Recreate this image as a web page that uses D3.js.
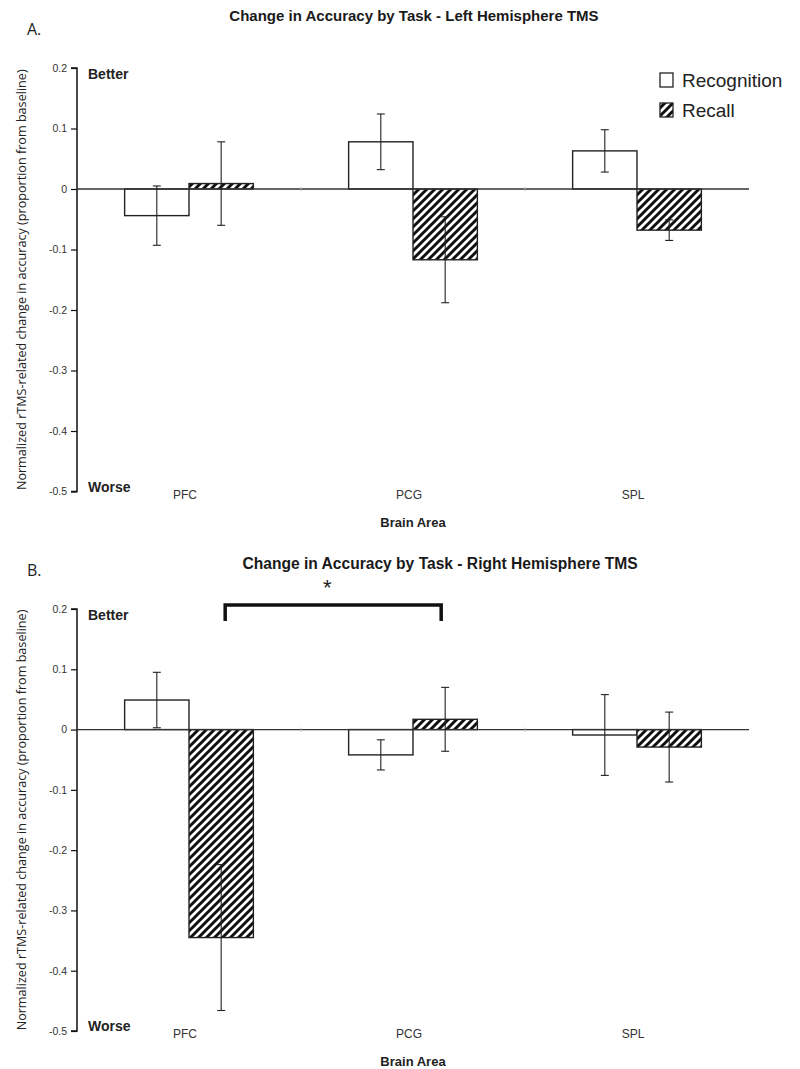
<!DOCTYPE html>
<html><head><meta charset="utf-8">
<script src="https://cdn.jsdelivr.net/npm/d3@7"></script>
<style>body{margin:0;background:#fff}svg{display:block}</style>
</head><body>
<svg id="c" width="800" height="1069"></svg>
<script>
const categories = ["PFC", "PCG", "SPL"];
const series = ["Recognition", "Recall"];
// Panel A: Left hemisphere
const leftRecognition = [-0.044, 0.078, 0.063];
const leftRecognitionErr = [0.049, 0.046, 0.035];
const leftRecall = [0.009, -0.117, -0.068];
const leftRecallErr = [0.069, 0.071, 0.017];
// Panel B: Right hemisphere
const rightRecognition = [0.049, -0.042, -0.009];
const rightRecognitionErr = [0.046, 0.025, 0.067];
const rightRecall = [-0.345, 0.017, -0.029];
const rightRecallErr = [0.121, 0.053, 0.058];
const yTicks = [0.2, 0.1, 0, -0.1, -0.2, -0.3, -0.4, -0.5];
const yTickLabels = ["0.2", "0.1", "0", "-0.1", "-0.2", "-0.3", "-0.4", "-0.5"];

const svg = d3.select("#c");
const defs = svg.append("defs");
const pat = defs.append("pattern").attr("id", "hatch").attr("patternUnits", "userSpaceOnUse")
  .attr("width", 8).attr("height", 8);
pat.append("rect").attr("width", 8).attr("height", 8).attr("fill", "#fff");
pat.append("path").attr("d", "M-2,2 L2,-2 M0,8 L8,0 M6,10 L10,6")
  .attr("stroke", "#111").attr("stroke-width", 3);

const x0 = d3.scaleBand().domain(categories).range([77, 749]);
const x1 = d3.scaleBand().domain(series).range([0, x0.bandwidth()]).paddingOuter(0.74);

function panel(cfg) {
  const g = svg.append("g");
  const y = d3.scaleLinear().domain([-0.5, 0.2]).range([cfg.yBottom, cfg.yTop]);
  const data = [];
  categories.forEach((c, i) => {
    data.push({cat: c, s: "Recognition", v: cfg.rec[i], e: cfg.recErr[i]});
    data.push({cat: c, s: "Recall", v: cfg.cal[i], e: cfg.calErr[i]});
  });
  // title
  g.append("text").attr("x", cfg.titleX).attr("y", cfg.titleY).attr("text-anchor", "middle")
    .attr("font-family", "Liberation Sans, Arial, sans-serif").attr("font-weight", "bold")
    .attr("font-size", cfg.titleSize).attr("fill", "#1a1a1a").text(cfg.title);
  g.append("text").attr("x", 27).attr("y", cfg.letterY)
    .attr("font-family", "Open Sans, sans-serif").attr("font-size", 16).attr("fill", "#222").text(cfg.letter);
  // y axis
  const ax = g.append("g").attr("transform", "translate(77,0)")
    .call(d3.axisLeft(y).tickValues(yTicks).tickFormat((d, i) => yTickLabels[i]).tickSize(6).tickPadding(4));
  ax.select(".domain").attr("stroke", "#111").attr("stroke-width", 1.5).attr("d", `M-6,${y(0.2)}H0V${y(-0.5)}H-6`);
  ax.selectAll(".tick line").attr("stroke", "#111").attr("stroke-width", 1.2);
  ax.selectAll(".tick text").attr("font-family", "Liberation Sans, Arial, sans-serif").attr("font-size", 10.5).attr("fill", "#333");
  // bars
  g.selectAll("rect.bar").data(data).join("rect").attr("class", "bar")
    .attr("x", d => x0(d.cat) + x1(d.s)).attr("width", x1.bandwidth())
    .attr("y", d => y(Math.max(0, d.v))).attr("height", d => Math.abs(y(d.v) - y(0)))
    .attr("fill", d => d.s === "Recall" ? "url(#hatch)" : "#fff")
    .attr("stroke", "#222").attr("stroke-width", 1.4);
  // zero line
  g.append("line").attr("x1", 77).attr("x2", 749).attr("y1", y(0)).attr("y2", y(0))
    .attr("stroke", "#333").attr("stroke-width", 1.3);
  // category boundary ticks
  g.selectAll("line.minor").data(categories.slice(1)).join("line").attr("class", "minor")
    .attr("x1", d => x0(d)).attr("x2", d => x0(d)).attr("y1", y(0) - 2).attr("y2", y(0) + 2)
    .attr("stroke", "#bbb").attr("stroke-width", 1);
  // error bars
  const eb = g.selectAll("g.eb").data(data).join("g").attr("class", "eb")
    .attr("stroke", "#222").attr("stroke-width", 1.1);
  const cx = d => x0(d.cat) + x1(d.s) + x1.bandwidth() / 2;
  eb.append("line").attr("x1", cx).attr("x2", cx).attr("y1", d => y(d.v + d.e)).attr("y2", d => y(d.v - d.e));
  eb.append("line").attr("x1", d => cx(d) - 4).attr("x2", d => cx(d) + 4).attr("y1", d => y(d.v + d.e)).attr("y2", d => y(d.v + d.e));
  eb.append("line").attr("x1", d => cx(d) - 4).attr("x2", d => cx(d) + 4).attr("y1", d => y(d.v - d.e)).attr("y2", d => y(d.v - d.e));
  // category labels
  g.selectAll("text.cat").data(categories).join("text").attr("class", "cat")
    .attr("x", d => x0(d) + x0.bandwidth() / 2 - 4).attr("y", y(-0.5) + 7)
    .attr("text-anchor", "middle").attr("font-family", "Liberation Sans, Arial, sans-serif")
    .attr("font-size", 12).attr("fill", "#333").text(d => d);
  g.append("text").attr("x", 413).attr("y", y(-0.5) + 35).attr("text-anchor", "middle")
    .attr("font-family", "Liberation Sans, Arial, sans-serif").attr("font-weight", "bold")
    .attr("font-size", 13).attr("fill", "#222").text("Brain Area");
  // Better / Worse
  g.append("text").attr("x", 88).attr("y", y(0.2) + 11).attr("font-family", "Liberation Sans, Arial, sans-serif")
    .attr("font-weight", "bold").attr("font-size", 14).attr("fill", "#222").text("Better");
  g.append("text").attr("x", 88).attr("y", y(-0.5) - 0).attr("font-family", "Liberation Sans, Arial, sans-serif")
    .attr("font-weight", "bold").attr("font-size", 14).attr("fill", "#222").text("Worse");
  // y label
  const yl = g.append("text").attr("transform", `translate(26,${(y(0.2) + y(-0.5)) / 2}) rotate(-90)`)
    .attr("text-anchor", "middle").attr("font-family", "Open Sans, sans-serif").attr("font-size", 12)
    .attr("fill", "#222").text("Normalized rTMS-related change in accuracy (proportion from baseline)");
  const len = yl.node().getComputedTextLength();
  yl.attr("font-size", 12 * 421 / len);
  return {g, y};
}

const A = panel({yTop: 68, yBottom: 491.5, rec: leftRecognition, recErr: leftRecognitionErr,
  cal: leftRecall, calErr: leftRecallErr, title: "Change in Accuracy by Task - Left Hemisphere TMS",
  titleX: 414, titleY: 21, titleSize: 15, letter: "A.", letterY: 35});
const B = panel({yTop: 609, yBottom: 1031, rec: rightRecognition, recErr: rightRecognitionErr,
  cal: rightRecall, calErr: rightRecallErr, title: "Change in Accuracy by Task - Right Hemisphere TMS",
  titleX: 440, titleY: 569, titleSize: 15.6, letter: "B.", letterY: 576});

// legend (panel A)
const lg = svg.append("g");
series.forEach((s, i) => {
  lg.append("rect").attr("x", 660).attr("y", 73 + i * 30).attr("width", 13).attr("height", 14)
    .attr("fill", s === "Recall" ? "url(#hatch)" : "#fff").attr("stroke", "#222").attr("stroke-width", 1.3);
  lg.append("text").attr("x", 682).attr("y", 87 + i * 30).attr("font-family", "Liberation Sans, Arial, sans-serif")
    .attr("font-size", 19).attr("fill", "#222").text(s);
});

// significance bracket (panel B): PFC Recall vs PCG Recall
const bx1 = x0("PFC") + x1("Recall") + x1.bandwidth() / 2 + 4;
const bx2 = x0("PCG") + x1("Recall") + x1.bandwidth() / 2 - 4;
const byTop = B.y(0.2) - 4;
svg.append("path").attr("d", `M${bx1},${byTop + 16}V${byTop}H${bx2}V${byTop + 16}`)
  .attr("fill", "none").attr("stroke", "#111").attr("stroke-width", 3.5);
svg.append("text").attr("x", (bx1 + bx2) / 2 - 6).attr("y", 595).attr("text-anchor", "middle")
  .attr("font-family", "Liberation Sans, Arial, sans-serif").attr("font-size", 22).attr("fill", "#222").text("*");
</script>
</body></html>
